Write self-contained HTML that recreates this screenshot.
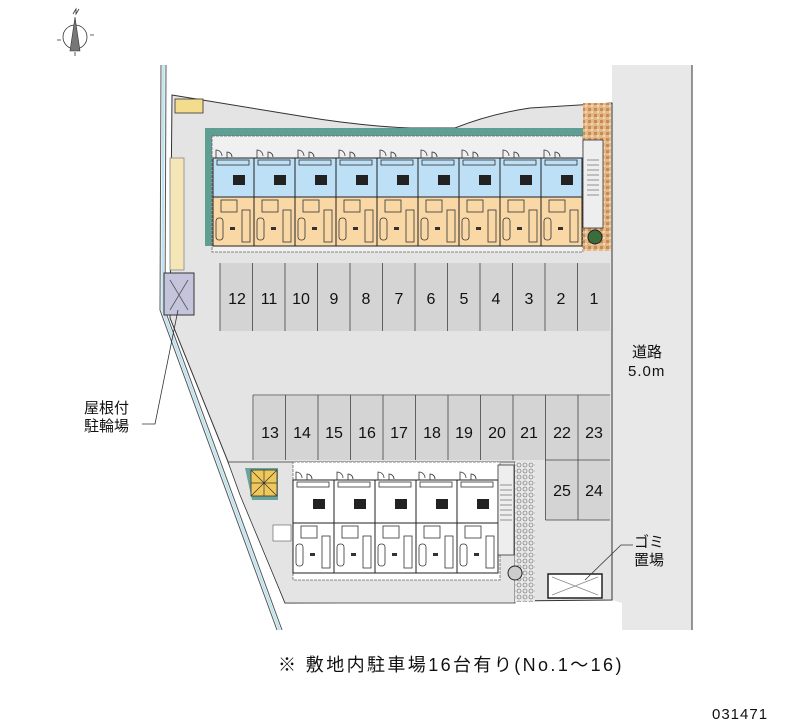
<!DOCTYPE html>
<html><head><meta charset="utf-8"><style>
html,body{margin:0;padding:0;background:#fff;}
svg{display:block;font-family:"Liberation Sans","Noto Sans CJK JP",sans-serif;}
</style></head><body>
<svg width="800" height="727" viewBox="0 0 800 727" xmlns="http://www.w3.org/2000/svg">
<defs>
<g id="uT">
 <rect x="0" y="18" width="41" height="39" fill="#bde0f6" stroke="#222" stroke-width="1"/>
 <rect x="0" y="57" width="41" height="49" fill="#f9d8a6" stroke="#222" stroke-width="1"/>
 <path d="M3 18 v-8 a6 6 0 0 1 6 6 M14 18 v-6 a5 5 0 0 1 5 5" fill="none" stroke="#333" stroke-width="0.8"/>
 <rect x="20" y="35" width="12" height="10" fill="#222"/>
 <rect x="4" y="20" width="32" height="5" fill="none" stroke="#333" stroke-width="0.8"/>
 <rect x="8" y="60" width="16" height="12" fill="none" stroke="#333" stroke-width="0.8"/>
 <rect x="29" y="70" width="8" height="32" fill="none" stroke="#333" stroke-width="0.8"/>
 <rect x="3" y="78" width="7" height="22" rx="3" fill="none" stroke="#333" stroke-width="0.8"/>
 <rect x="17" y="87" width="5" height="3" fill="#333"/>
</g>
<g id="uB">
 <rect x="0" y="18" width="41" height="43" fill="#fff" stroke="#222" stroke-width="1"/>
 <rect x="0" y="61" width="41" height="50" fill="#fff" stroke="#222" stroke-width="1"/>
 <path d="M3 18 v-8 a6 6 0 0 1 6 6 M14 18 v-6 a5 5 0 0 1 5 5" fill="none" stroke="#333" stroke-width="0.8"/>
 <rect x="20" y="37" width="12" height="10" fill="#222"/>
 <rect x="4" y="20" width="32" height="5" fill="none" stroke="#333" stroke-width="0.8"/>
 <rect x="8" y="64" width="16" height="12" fill="none" stroke="#333" stroke-width="0.8"/>
 <rect x="29" y="74" width="8" height="32" fill="none" stroke="#333" stroke-width="0.8"/>
 <rect x="3" y="82" width="7" height="22" rx="3" fill="none" stroke="#333" stroke-width="0.8"/>
 <rect x="17" y="91" width="5" height="3" fill="#333"/>
</g>
<pattern id="brick" width="6" height="6" patternUnits="userSpaceOnUse">
 <rect width="6" height="6" fill="#e3b98a"/><rect x="0" y="0" width="3" height="3" fill="#c98a55"/><rect x="3" y="3" width="2" height="2" fill="#f3d9b0"/>
</pattern>
<pattern id="cob" width="6" height="6" patternUnits="userSpaceOnUse">
 <rect width="6" height="6" fill="#e8e8e8"/><circle cx="3" cy="3" r="2" fill="none" stroke="#666" stroke-width="0.6"/>
</pattern>
</defs>

<g stroke="#333" fill="none" stroke-width="0.8">
 <circle cx="75" cy="37" r="12"/>
 <path d="M57 40 h4 M90 35 h4 M75 52 v4"/>
 <path d="M73 14 l3 -5 l0 5 l3 -5" />
</g>
<polygon points="75,17 80,51 70,51" fill="#777" stroke="#333" stroke-width="0.6"/>

<polygon points="612,65 692,65 692,630 622,630 622,603 612,600" fill="#e8e8e8"/>
<line x1="692" y1="65" x2="692" y2="630" stroke="#555" stroke-width="1.2"/>
<line x1="612" y1="103" x2="612" y2="600" stroke="#555" stroke-width="1" stroke-dasharray="2,1"/>

<path d="M172,95 L300,116 Q360,126 410,128 L455,128 Q490,114 530,108 L612,103 L612,600 L285,603 L170,318 Z" fill="#e4e4e4" stroke="#333" stroke-width="1"/>
<polyline points="161,65 160,310 277,630" fill="none" stroke="#555" stroke-width="1"/>
<polyline points="166,65 165,310 282,630" fill="none" stroke="#555" stroke-width="1"/>
<polyline points="163.5,65 162.5,310 279.5,630" fill="none" stroke="#bfe3ef" stroke-width="2.5"/>

<rect x="175" y="99" width="28" height="14" fill="#f3dc8c" stroke="#333" stroke-width="0.8"/>
<rect x="170" y="158" width="14" height="112" fill="#f5e6b8" stroke="#888" stroke-width="0.8"/>
<rect x="164" y="273" width="30" height="42" fill="#c4c4dc" stroke="#333" stroke-width="1"/>
<path d="M170 280 L188 310 M188 280 L170 310" stroke="#555" stroke-width="0.8"/>

<path d="M205 128 H583 V136 H212 V246 H205 Z" fill="#5f9e92"/>
<rect x="212" y="136" width="371" height="116" fill="#f0f0f0" stroke="#666" stroke-width="0.8" stroke-dasharray="3,1"/>
<use href="#uT" x="213" y="140"/><use href="#uT" x="254" y="140"/><use href="#uT" x="295" y="140"/>
<use href="#uT" x="336" y="140"/><use href="#uT" x="377" y="140"/><use href="#uT" x="418" y="140"/>
<use href="#uT" x="459" y="140"/><use href="#uT" x="500" y="140"/><use href="#uT" x="541" y="140"/>
<rect x="583" y="103" width="28" height="148" fill="url(#brick)"/>
<rect x="583" y="140" width="20" height="88" fill="#eee" stroke="#333" stroke-width="0.8"/>
<path d="M587 160 h12 M587 165 h12 M587 170 h12 M587 175 h12 M587 180 h12 M587 185 h12 M587 190 h12 M587 195 h12" stroke="#333" stroke-width="0.6"/>
<circle cx="595" cy="237" r="7" fill="#3c6b3c" stroke="#222"/>

<rect x="220" y="263" width="390" height="68" fill="#d4d4d4"/>
<g stroke="#444" stroke-width="0.8" fill="none">
 <path d="M220 263 V331 M252.5 263 V331 M285 263 V331 M317.5 263 V331 M350 263 V331 M382.5 263 V331 M415 263 V331 M447.5 263 V331 M480 263 V331 M512.5 263 V331 M545 263 V331 M577.5 263 V331"/>
</g>
<g font-size="16" fill="#111" text-anchor="middle">
 <text x="237" y="304">12</text><text x="269" y="304">11</text><text x="301" y="304">10</text><text x="334" y="304">9</text>
 <text x="366" y="304">8</text><text x="399" y="304">7</text><text x="431" y="304">6</text><text x="464" y="304">5</text>
 <text x="496" y="304">4</text><text x="529" y="304">3</text><text x="561" y="304">2</text><text x="594" y="304">1</text>
</g>
<g fill="#d4d4d4">
 <rect x="254" y="396" width="356" height="64"/><rect x="546" y="460" width="64" height="60"/>
</g>
<g stroke="#444" stroke-width="0.8">
 <path d="M253 395 V460 M285.5 395 V460 M318 395 V460 M350.5 395 V460 M383 395 V460 M415.5 395 V460 M448 395 V460 M480.5 395 V460 M513 395 V460 M545.5 395 V520 M578 395 V520 M253 395 H610 M545.5 460 H610 M545.5 520 H610"/>
</g>
<g font-size="16" fill="#111" text-anchor="middle">
 <text x="270" y="438">13</text><text x="302" y="438">14</text><text x="334" y="438">15</text><text x="367" y="438">16</text>
 <text x="399" y="438">17</text><text x="432" y="438">18</text><text x="464" y="438">19</text><text x="497" y="438">20</text>
 <text x="529" y="438">21</text><text x="562" y="438">22</text><text x="594" y="438">23</text>
 <text x="562" y="496">25</text><text x="594" y="496">24</text>
</g>

<polygon points="228,462 515,462 515,603 285,603 240,495" fill="#e4e4e4" stroke="#333" stroke-width="0.8"/>
<rect x="293" y="462" width="207" height="118" fill="#fff" stroke="#666" stroke-width="0.8" stroke-dasharray="3,1"/>
<use href="#uB" x="293" y="462"/><use href="#uB" x="334" y="462"/><use href="#uB" x="375" y="462"/>
<use href="#uB" x="416" y="462"/><use href="#uB" x="457" y="462"/>
<rect x="498" y="465" width="16" height="90" fill="#eee" stroke="#333" stroke-width="0.8"/>
<path d="M500 485 h12 M500 490 h12 M500 495 h12 M500 500 h12 M500 505 h12 M500 510 h12 M500 515 h12 M500 520 h12" stroke="#333" stroke-width="0.6"/>
<rect x="515" y="462" width="20" height="140" fill="url(#cob)"/>
<circle cx="515" cy="573" r="7" fill="#ccc" stroke="#222"/>
<polygon points="245,468 278,468 278,500 252,500" fill="#6aa59b"/>
<rect x="251" y="470" width="26" height="26" fill="#f0c85a" stroke="#333" stroke-width="0.8"/>
<path d="M251 470 l26 26 M277 470 l-26 26 M264 470 v26 M251 483 h26" stroke="#333" stroke-width="0.7"/>
<rect x="273" y="525" width="18" height="16" fill="#fff" stroke="#555" stroke-width="0.6"/>

<rect x="548" y="574" width="54" height="24" fill="#fff" stroke="#222" stroke-width="1.5"/>
<path d="M552 577 l46 18 M598 577 l-46 18" stroke="#888" stroke-width="0.7"/>

<g font-size="15" fill="#111">
 <text x="84" y="413">屋根付</text><text x="84" y="431">駐輪場</text>
 <text x="632" y="357">道路</text><text x="628" y="376" letter-spacing="1">5.0m</text>
 <text x="634" y="547">ゴミ</text><text x="634" y="565">置場</text>
</g>
<path d="M142 424 H155 L178 310" fill="none" stroke="#333" stroke-width="0.8"/>
<path d="M633 545 H621 L585 580" fill="none" stroke="#333" stroke-width="0.8"/>

<text x="278" y="671" font-size="18" letter-spacing="2.4" fill="#111">※ 敷地内駐車場16台有り(No.1〜16)</text>
<text x="712" y="719" font-size="15" letter-spacing="1" fill="#111">031471</text>
</svg>
</body></html>
